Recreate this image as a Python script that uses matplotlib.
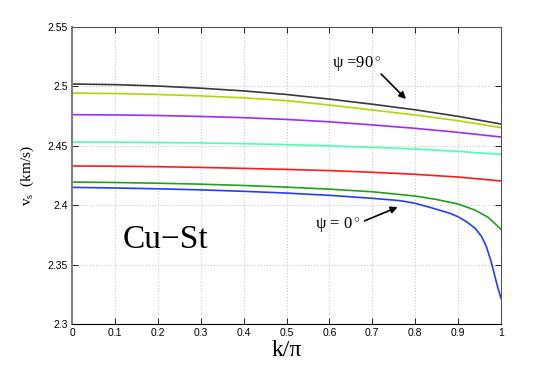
import numpy as np
import matplotlib
matplotlib.use("Agg")
import matplotlib.pyplot as plt

plt.rcParams["mathtext.fontset"] = "custom"
plt.rcParams["mathtext.rm"] = "Liberation Serif"
plt.rcParams["mathtext.it"] = "Liberation Serif:italic"

# k/pi sample points (upper five curves)
k = [0.0, 0.1, 0.2, 0.3, 0.4, 0.5, 0.6, 0.7, 0.8, 0.9, 1.0]
v_90 = [2.5020, 2.5015, 2.5003, 2.4985, 2.4962, 2.4932, 2.4893, 2.4850, 2.4803, 2.4748, 2.4683]
v_75 = [2.4944, 2.4940, 2.4932, 2.4920, 2.4904, 2.4880, 2.4843, 2.4801, 2.4759, 2.4711, 2.4653]
v_60 = [2.4762, 2.4760, 2.4755, 2.4747, 2.4737, 2.4722, 2.4702, 2.4676, 2.4647, 2.4613, 2.4574]
v_45 = [2.4532, 2.4531, 2.4528, 2.4524, 2.4518, 2.4510, 2.4500, 2.4487, 2.4473, 2.4453, 2.4428]
v_30 = [2.4330, 2.4328, 2.4324, 2.4318, 2.4310, 2.4301, 2.4291, 2.4277, 2.4260, 2.4237, 2.4204]

k_15 = [0.0, 0.1, 0.2, 0.3, 0.4, 0.5, 0.6, 0.7, 0.8, 0.85, 0.9, 0.94, 0.97, 0.985, 1.0]
v_15 = [2.4195, 2.4191, 2.4185, 2.4177, 2.4166, 2.4152, 2.4135, 2.4113, 2.4077, 2.4048, 2.4010, 2.3958, 2.3898, 2.3848, 2.3797]

k_0 = [0.0, 0.1, 0.2, 0.3, 0.4, 0.5, 0.6, 0.7, 0.765, 0.8, 0.84, 0.88, 0.9, 0.92, 0.94,
       0.955, 0.966, 0.977, 0.985, 0.992, 1.0]
v_0 = [2.4150, 2.4145, 2.4138, 2.4129, 2.4117, 2.4102, 2.4083, 2.4058, 2.4038, 2.4016, 2.3976,
       2.3933, 2.3903, 2.3860, 2.3805, 2.3735, 2.3651, 2.3525, 2.3412, 2.3314, 2.3216]

series = [(k, v_90), (k, v_75), (k, v_60), (k, v_45), (k, v_30), (k_15, v_15), (k_0, v_0)]
colors = ["#3a3a3a", "#b5d400", "#9b2cff", "#4dffb0", "#ff1a1a", "#1fa01f", "#1f3fff"]

xticks = [0, 0.1, 0.2, 0.3, 0.4, 0.5, 0.6, 0.7, 0.8, 0.9, 1]
xticklabels = ["0", "0.1", "0.2", "0.3", "0.4", "0.5", "0.6", "0.7", "0.8", "0.9", "1"]
yticks = [2.3, 2.35, 2.4, 2.45, 2.5, 2.55]
yticklabels = ["2.3", "2.35", "2.4", "2.45", "2.5", "2.55"]

fig = plt.figure(figsize=(5.54, 3.65), dpi=100)
ax = fig.add_axes([72/554, 1-324/365, (501-72)/554, (324-27)/365])

for (xs, ys), c in zip(series, colors):
    ax.plot(xs, ys, color=c, lw=1.2)

ax.set_xlim(0, 1)
ax.set_ylim(2.3, 2.55)
ax.set_xticks(xticks)
ax.set_xticklabels(xticklabels, fontsize=7.5, family="Liberation Sans")
ax.set_yticks(yticks)
ax.set_yticklabels(yticklabels, fontsize=7.5, family="Liberation Sans")
ax.tick_params(direction="in", length=4, width=0.6, top=True, right=True, pad=3)
ax.grid(True, linestyle=":", color="#c8c8c8", linewidth=0.8)
for sp in ax.spines.values():
    sp.set_linewidth(0.8)
ax.spines["left"].set_color("#808080")
ax.spines["left"].set_linewidth(1.5)
ax.spines["top"].set_color("#555555")
ax.spines["right"].set_color("#555555")

ax.set_xlabel("k/\u03c0", fontsize=17, family="Liberation Serif", labelpad=1)
ax.set_ylabel(r"$\mathregular{v}_\mathregular{s}$  (km/s)", fontsize=11, family="Liberation Serif", labelpad=8)

ax.text(0.217, 2.3707, "Cu\u2212St", fontsize=24, family="Liberation Serif",
        ha="center", va="center")
ax.text(0.664, 2.5185, "\u03c8 =90$^\\circ$", fontsize=12, family="Liberation Serif",
        ha="center", va="center")
ax.annotate("", xy=(0.783, 2.4877), xytext=(0.716, 2.5121),
            arrowprops=dict(arrowstyle="-|>", color="black", lw=1.2, mutation_scale=10))
ax.text(0.62, 2.3833, "\u03c8 = 0$^\\circ$", fontsize=12, family="Liberation Serif",
        ha="center", va="center")
ax.annotate("", xy=(0.765, 2.3993), xytext=(0.676, 2.3859),
            arrowprops=dict(arrowstyle="-|>", color="black", lw=1.2, mutation_scale=10))

fig.savefig("out.png", dpi=100)
